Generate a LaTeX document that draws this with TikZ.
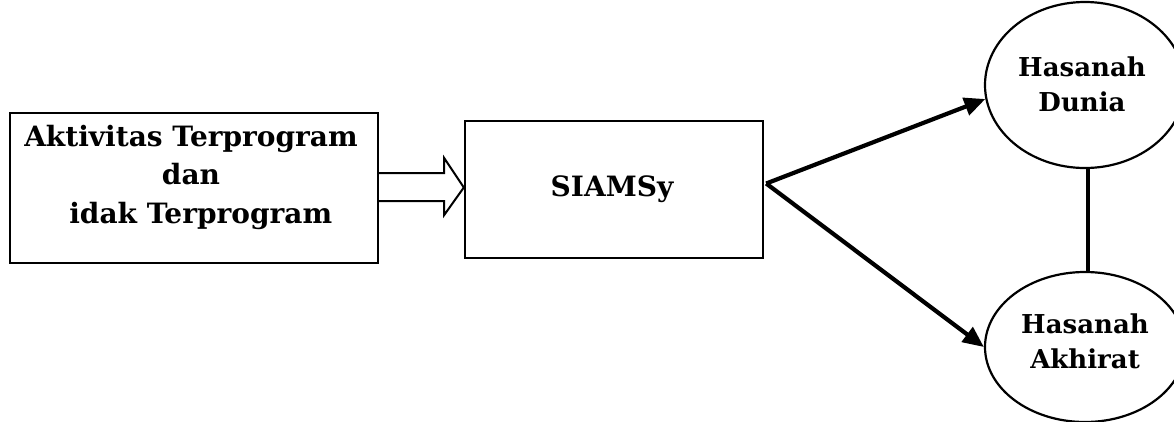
\documentclass[tikz,border=0pt]{standalone}
\usepackage{fontspec}
\setmainfont{DejaVu Serif}
\usetikzlibrary{arrows.meta,calc,shapes.geometric}

\tikzset{
  boxnode/.style={draw, line width=2.4pt, rectangle, inner sep=0pt},
  goalnode/.style={draw, line width=2.2pt, ellipse, inner sep=0pt,
    minimum width=200pt, minimum height=166pt},
  lbl/.style={font=\bfseries\fontsize{28}{38.5}\selectfont, align=center, inner sep=0pt},
  goallbl/.style={font=\bfseries\fontsize{26}{35}\selectfont, align=center, inner sep=0pt},
  flow/.style={line width=4.2pt, -{Triangle[length=21pt,width=18pt]}},
}

\begin{document}
\begin{tikzpicture}[x=1pt, y=-1pt]
  \useasboundingbox (0,0) rectangle (1174,421);
  \clip (0,0) rectangle (1174,421);

  % input activities
  \node[boxnode, minimum width=368pt, minimum height=150pt] (act) at (194,188) {};
  \node[lbl] (acttext) at (191,177) {Aktivitas Terprogram\\dan\\\ \ idak Terprogram};

  % the system
  \node[boxnode, minimum width=298pt, minimum height=137pt] (sys) at (614,189.5) {};
  \node[lbl] (systext) at (612,189) {SIAMSy};

  % outcomes
  \node[goalnode] (dunia) at (1085,85) {};
  \node[goallbl] (duniatext) at (1082,84) {Hasanah\\Dunia};
  \node[goalnode, minimum height=150pt] (akhirat) at (1085,347) {};
  \node[goallbl] (akhirattext) at (1085,341) {Hasanah\\Akhirat};

  % hollow block arrow between the two boxes
  \draw[line width=2pt, line join=miter, fill=white]
    ($(act.east)+(0,-15)$) -- ($(act.east)+(65,-15)$) -- ($(act.east)+(65,-30)$)
    -- ($(sys.west)+(0,-2)$)
    -- ($(act.east)+(65,27)$) -- ($(act.east)+(65,13)$) -- ($(act.east)+(0,13)$);

  % branches from the system
  \coordinate (fork) at ($(sys.east)+(2,-6)$);
  \draw[flow] (fork) -- (dunia.188);
  \draw[flow] (fork) -- (akhirat.west);

  % link between the two outcomes
  \draw[line width=4.2pt] ($(dunia.south)+(3,0)$) -- ($(akhirat.north)+(3,0)$);
\end{tikzpicture}
\end{document}
